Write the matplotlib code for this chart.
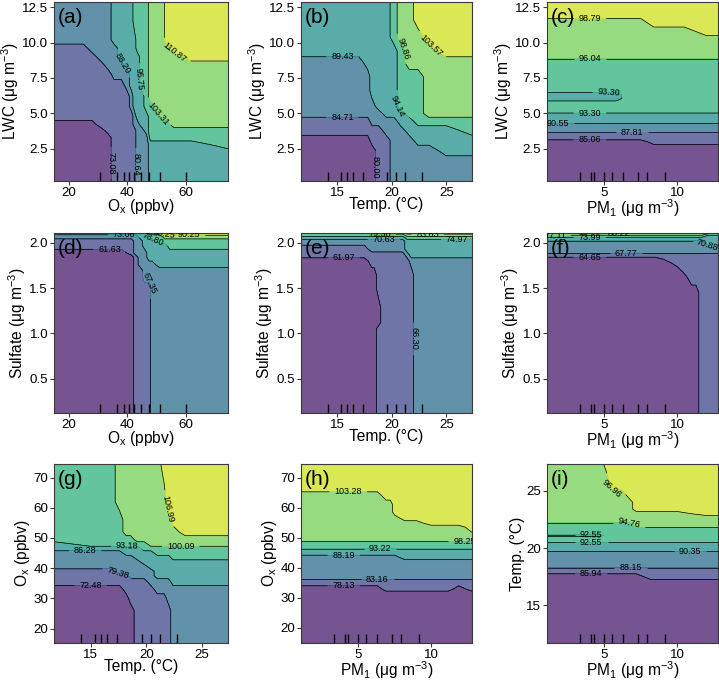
import numpy as np
import matplotlib
matplotlib.use("Agg")
import matplotlib.pyplot as plt

plt.rcParams['font.family'] = ['Liberation Sans', 'DejaVu Sans']
plt.rcParams['mathtext.fontset'] = 'custom'
plt.rcParams['mathtext.rm'] = 'Liberation Sans'
plt.rcParams['mathtext.it'] = 'Liberation Sans:italic'
plt.rcParams['mathtext.bf'] = 'Liberation Sans:bold'

# ---------------- data ----------------
# feature deciles (rug ticks at the bottom of each panel)
ox_deciles = [30.8, 36.7, 39.1, 40.8, 42.4, 44.9, 47.5, 51.3, 60.1]
temp_deciles = [14.15, 15.35, 15.9, 16.45, 17.35, 19.6, 20.4, 21.2, 22.8]
pm1_deciles = [3.35, 4.05, 4.3, 4.95, 5.5, 6.25, 7.3, 7.9, 9.2]

# Each panel: grid nodes (x, y listed top->bottom) and the partial-dependence
# band (0..6, between consecutive contour levels) read at each node.
# (a) Ox vs LWC
a_levels = [65.52, 73.08, 80.64, 88.20, 95.75, 103.31, 110.87, 118.43]
a_x = [15, 22, 25, 28, 31, 33.5, 35.5, 38, 40, 41.5, 42.5, 43.5, 45, 46.5, 48, 50, 52, 53.5, 56, 62, 74.5]
a_y = [12.87, 11.5, 10.2, 9.6, 9.0, 8.4, 7.8, 7.0, 6.2, 5.5, 4.8, 4.2, 3.8, 3.3, 2.8, 2.2, 0.22]
a_bands = [
    "222222333344445556666",
    "222222333344445556666",
    "222222333334445556666",
    "111222233334445555666",
    "111122233333445555566",
    "111112223333445555555",
    "111111222333445555555",
    "111111112333445555555",
    "111111111233345555555",
    "111111111233344555555",
    "111111111123334455555",
    "000011111122334444555",
    "000001111112234444444",
    "000000111112224444444",
    "000000111112223333334",
    "000000111112223333333",
    "000000111112223333333",
]

# (b) Temp vs LWC
b_levels = [75.29, 80.00, 84.71, 89.43, 94.14, 98.86, 103.57, 108.29]
b_x = [11.7, 15, 17, 17.8, 18.2, 18.8, 19.5, 20.2, 20.8, 21.6, 22.4, 23.4, 25, 27.35]
b_y = [12.87, 11.6, 10.4, 9.4, 8.6, 7.6, 6.6, 5.5, 5.0, 4.45, 3.8, 3.1, 2.4, 1.6, 0.22]
b_bands = [
    "33333334556666",
    "33333334556666",
    "33333334555666",
    "33333333455566",
    "22233333455555",
    "22223333444555",
    "22223333444555",
    "22222333444555",
    "22222233344555",
    "11112222334444",
    "11111122233334",
    "00001112223333",
    "00000112222233",
    "00000112222222",
    "00000112222222",
]

# (c) PM1 vs LWC
c_levels = [82.32, 85.06, 87.81, 90.55, 93.30, 96.04, 98.79, 101.53]
c_x = [1.05, 3, 5, 5.8, 6.6, 7.5, 8.4, 9.3, 10.5, 12, 12.82]
c_y = [12.87, 12.0, 11.4, 10.8, 10.2, 9.1, 8.6, 6.65, 6.3, 6.05, 5.7, 5.25, 4.8, 4.5, 4.1, 3.8, 3.5, 3.25, 3.0, 2.6, 0.22]
c_bands = [
    "66666666666",
    "66666666666",
    "55555566666",
    "55555555566",
    "55555555555",
    "55555555555",
    "44444444444",
    "44444444444",
    "33334444444",
    "33334444444",
    "44444444444",
    "44444444444",
    "33333333333",
    "33333333333",
    "22222222222",
    "22222222222",
    "11111111111",
    "11111111111",
    "00000011111",
    "00000000000",
    "00000000000",
]

# (d) Ox vs Sulfate
d_levels = [55.90, 61.63, 67.35, 73.08, 78.80, 84.53, 90.25, 95.98]
d_x = [15, 30, 38, 41.5, 43, 44.5, 46, 47.5, 48.5, 51, 53, 54.5, 62, 74.5]
d_y = [2.11, 2.07, 2.02, 1.97, 1.89, 1.84, 1.76, 1.70, 1.62, 1.5, 1.3, 0.12]
d_bands = [
    "33333444556666",
    "22222334445555",
    "11112233344444",
    "11112233333444",
    "00012223333333",
    "00001223333333",
    "00001222233333",
    "00001122222222",
    "00001122222222",
    "00001111222222",
    "00001111222222",
    "00001111222222",
]

# (e) Temp vs Sulfate
e_levels = [57.64, 61.97, 66.30, 70.63, 74.97, 79.30, 83.63, 87.96]
e_x = [11.7, 15, 17.5, 18.2, 18.4, 18.8, 19.2, 20.5, 21.0, 21.4, 21.8, 22.2, 24, 27.35]
e_y = [2.11, 2.085, 2.06, 2.02, 1.93, 1.87, 1.80, 1.65, 1.5, 1.28, 1.12, 1.05, 0.12]
e_bands = [
    "44455555566666",
    "44444444455555",
    "33333333344444",
    "22222222233333",
    "11122222233333",
    "11111111123333",
    "00011111112222",
    "00000111111222",
    "00000111111222",
    "00000011111222",
    "00000011111222",
    "00000111111222",
    "00000111111222",
]

# (f) PM1 vs Sulfate
f_levels = [61.54, 64.65, 67.77, 70.88, 73.99, 77.11, 80.22, 83.33]
f_x = [1.05, 4, 7, 8.5, 9.6, 10.4, 11.0, 11.3, 11.7, 12.2, 12.82]
f_y = [2.11, 2.095, 2.075, 2.05, 2.0, 1.91, 1.865, 1.82, 1.74, 1.62, 1.45, 1.2, 0.12]
f_bands = [
    "66666666555",
    "55555555544",
    "44444444433",
    "33333333333",
    "22222222233",
    "22222222222",
    "11111111111",
    "00001111111",
    "00000111111",
    "00000011111",
    "00000000111",
    "00000000111",
    "00000000111",
]

# (g) Temp vs Ox
g_levels = [65.58, 72.48, 79.38, 86.28, 93.18, 100.09, 106.99, 113.89]
g_x = [11.7, 15, 16.8, 17.6, 18.2, 18.6, 19.2, 19.8, 20.4, 21.0, 21.6, 22.0, 22.4, 23.5, 27.35]
g_y = [74.5, 62, 56, 52, 49.5, 48, 46.5, 45, 43.5, 42, 40.5, 39, 37.5, 35.5, 33, 30, 26, 15.2]
g_bands = [
    "444555555566666",
    "444555555556666",
    "444455555555666",
    "444455555555566",
    "444444555555555",
    "344444445555555",
    "333333344444444",
    "222233333444444",
    "222222333333444",
    "222222233333333",
    "222222223333333",
    "111222222333333",
    "111112222333333",
    "111111112222333",
    "000011111222222",
    "000001111112222",
    "000000111111222",
    "000000111111222",
]

# (h) PM1 vs Ox
h_levels = [73.10, 78.13, 83.16, 88.19, 93.22, 98.25, 103.28, 108.31]
h_x = [1.05, 3, 4.5, 5.5, 6.3, 6.9, 7.2, 7.5, 8.2, 9.0, 10.0, 11.2, 11.9, 12.82]
h_y = [74.5, 66.5, 64, 61, 58.5, 56.5, 54.8, 53.5, 50, 47.5, 45, 43.4, 42, 37.5, 35, 33, 31.5, 15]
h_bands = [
    "66666666666666",
    "66666666666666",
    "55555666666666",
    "55555556666666",
    "55555556666666",
    "55555555666666",
    "55555555556666",
    "55555555555556",
    "55555555555555",
    "44444444444444",
    "33333333333333",
    "22222222333333",
    "22222222222222",
    "22222222222222",
    "11111111111111",
    "00000111111101",
    "00000000000000",
    "00000000000000",
]

# (i) PM1 vs Temp
i_levels = [83.74, 85.94, 88.15, 90.35, 92.55, 94.76, 96.96, 99.17]
i_x = [1.05, 3, 4.7, 5.2, 5.6, 6.2, 6.7, 7.2, 8.2, 10, 12, 12.82]
i_y = [27.35, 25.5, 24.7, 24.0, 23.4, 23.0, 22.7, 22.4, 22.0, 21.6, 21.25, 21.1, 20.95,
       20.7, 20.3, 20.0, 19.4, 18.6, 18.0, 17.5, 17.0, 11.7]
i_bands = [
    "555666666666",
    "555566666666",
    "555555666666",
    "555555566666",
    "555555566666",
    "555555555566",
    "555555555555",
    "555555555555",
    "444444455555",
    "444444444444",
    "444444444444",
    "333444444444",
    "444444444444",
    "444444444444",
    "333333333333",
    "333333333333",
    "222222222222",
    "222222222222",
    "111111111111",
    "000000001111",
    "000000000000",
    "000000000000",
]

# ---------------- layout / styling ----------------
W, H = 719, 681
fig = plt.figure(figsize=(W / 100, H / 100), dpi=100)

lab_ox = r'O$_{\mathrm{x}}$ (ppbv)'
lab_temp = 'Temp. (°C)'
lab_pm1 = 'PM$_{1}$ (μg m$^{-3}$)'
lab_lwc = 'LWC (μg m$^{-3}$)'
lab_so4 = 'Sulfate (μg m$^{-3}$)'

cols = [(54, 228), (301, 472), (547, 718)]
rows_px = [(2, 181), (233, 413), (464, 643)]

panels = [
    ('a', a_x, a_y, a_bands, a_levels, ox_deciles, lab_ox, lab_lwc, [20, 40, 60], [2.5, 5, 7.5, 10, 12.5],
     [(35.0, 1.5), (43.2, 1.4), (38.3, 8.5), (45.0, 7.4), (50.0, 4.9), (56.4, 9.4)]),
    ('b', b_x, b_y, b_bands, b_levels, temp_deciles, lab_temp, lab_lwc, [15, 20, 25], [2.5, 5, 7.5, 10, 12.5],
     [(18.4, 1.2), (15.5, 4.7), (15.5, 9.0), (20.0, 5.4), (21.3, 9.7), (23.2, 9.4)]),
    ('c', c_x, c_y, c_bands, c_levels, pm1_deciles, lab_pm1, lab_lwc, [5, 10], [2.5, 5, 7.5, 10, 12.5],
     [(4.0, 11.7), (4.0, 9.0), (5.3, 6.5), (4.0, 5.05), (1.8, 4.3), (6.9, 3.65), (4.0, 3.1)]),
    ('d', d_x, d_y, d_bands, d_levels, ox_deciles, lab_ox, lab_so4, [20, 40, 60], [0.5, 1.0, 1.5, 2.0],
     [(34.0, 1.93), (47.6, 1.56), (39.0, 2.09), (49.0, 2.04), (52.5, 2.08), (61.0, 2.09)]),
    ('e', e_x, e_y, e_bands, e_levels, temp_deciles, lab_temp, lab_so4, [15, 20, 25], [0.5, 1.0, 1.5, 2.0],
     [(15.6, 1.83), (22.0, 0.94), (19.3, 2.04), (26.0, 2.04), (18.9, 2.097), (23.3, 2.097)]),
    ('f', f_x, f_y, f_bands, f_levels, pm1_deciles, lab_pm1, lab_so4, [5, 10], [0.5, 1.0, 1.5, 2.0],
     [(4.0, 1.84), (6.5, 1.89), (12.0, 1.96), (4.0, 2.06), (1.6, 2.085), (6.0, 2.10)]),
    ('g', g_x, g_y, g_bands, g_levels, temp_deciles, lab_temp, lab_ox, [15, 20, 25], [20, 30, 40, 50, 60, 70],
     [(15.0, 34.2), (17.5, 38.9), (14.5, 45.8), (18.3, 48.0), (23.1, 47.2), (22.0, 59.7)]),
    ('h', h_x, h_y, h_bands, h_levels, pm1_deciles, lab_pm1, lab_ox, [5, 10], [20, 30, 40, 50, 60, 70],
     [(4.0, 34.0), (6.3, 36.3), (4.0, 44.2), (6.5, 46.3), (12.3, 48.8), (4.3, 65.3)]),
    ('i', i_x, i_y, i_bands, i_levels, pm1_deciles, lab_pm1, lab_temp, [5, 10], [15, 20, 25],
     [(4.1, 17.75), (6.8, 18.3), (10.9, 19.7), (4.1, 20.5), (4.1, 21.17), (6.7, 22.1), (5.4, 25.1)]),
]

edge = '#3a3a3a'
for k, (key, xs, ys_top, bands_top, levels, dec, xlab, ylab, xt, yt, lab_at) in enumerate(panels):
    l, r = cols[k % 3]
    t, b = rows_px[k // 3]
    ax = fig.add_axes([l / W, 1 - b / H, (r - l) / W, (b - t) / H])
    ys = np.array(ys_top[::-1], dtype=float)
    idx = np.array([[int(ch) for ch in row] for row in bands_top[::-1]])
    lv = np.array(levels)
    mids = (lv[:-1] + lv[1:]) / 2.0
    Z = mids[idx]
    X, Y = np.meshgrid(np.array(xs, dtype=float), ys)
    ax.contourf(X, Y, Z, levels=lv, cmap='viridis', vmin=lv[0], vmax=lv[-1], alpha=0.75)
    cs = ax.contour(X, Y, Z, levels=lv, colors='k', linewidths=0.5)
    ax.clabel(cs, fmt='%2.2f', colors='k', fontsize=6.5, inline=True, manual=lab_at)
    ax.vlines(dec, 0, 0.05, transform=ax.get_xaxis_transform(), colors='k', linewidth=1.0)
    ax.set_xlim(xs[0], xs[-1])
    ax.set_ylim(ys[0], ys[-1])
    ax.set_xticks(xt)
    ax.set_yticks(yt)
    ax.tick_params(direction='out', length=3, width=0.8, labelsize=9.6, color=edge, pad=1.2)
    for s in ax.spines.values():
        s.set_color(edge)
        s.set_linewidth(0.8)
    ax.set_xlabel(xlab, fontsize=11.2, labelpad=-1.0)
    ax.set_ylabel(ylab, fontsize=11.2, labelpad=1.0)
    ax.text(0.02, 0.965, '(%s)' % key, transform=ax.transAxes, fontsize=15, va='top', ha='left')

fig.savefig('out.png', dpi=100)
